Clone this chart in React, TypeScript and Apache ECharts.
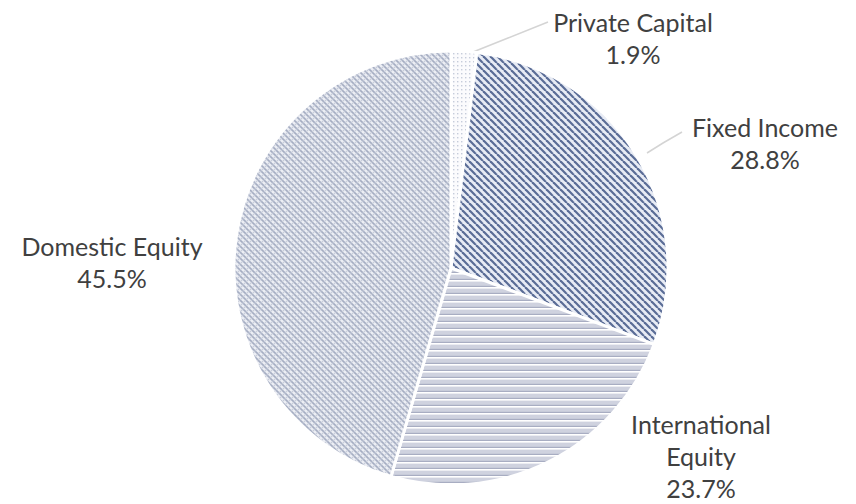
import React, { useEffect, useRef } from "react";
import * as echarts from "echarts";

const categories = ["Private Capital", "Fixed Income", "International Equity", "Domestic Equity"];
const labelNames = ["Private Capital", "Fixed Income", "International\nEquity", "Domestic Equity"];
const shares = [1.9, 28.8, 23.7, 45.5];
const labelX = [633, 765, 701, 112];
const labelY = [38, 143, 456, 262];

function tile(w: number, h: number, draw: (c: CanvasRenderingContext2D) => void) {
  const cv = document.createElement("canvas");
  cv.width = w;
  cv.height = h;
  const c = cv.getContext("2d")!;
  draw(c);
  return cv;
}

function diag(c: CanvasRenderingContext2D, s: number, dir: number) {
  for (let k = -1; k <= 1; k++) {
    c.beginPath();
    if (dir > 0) {
      c.moveTo(k * s, 0);
      c.lineTo(k * s + s, s);
    } else {
      c.moveTo(k * s, s);
      c.lineTo(k * s + s, 0);
    }
    c.stroke();
  }
}

function patterns() {
  const priv = tile(4, 4, (c) => {
    c.fillStyle = "#fbfbfd";
    c.fillRect(0, 0, 4, 4);
    c.fillStyle = "#c6ccda";
    c.fillRect(1, 1, 1.4, 1.4);
  });
  const fixed = tile(7, 7, (c) => {
    c.fillStyle = "#e8ecf5";
    c.fillRect(0, 0, 7, 7);
    c.strokeStyle = "#5a6c96";
    c.lineWidth = 2.2;
    diag(c, 7, 1);
  });
  const intl = tile(4, 7, (c) => {
    c.fillStyle = "#cfd2df";
    c.fillRect(0, 0, 4, 7);
    c.fillStyle = "#ffffff";
    c.fillRect(0, 0, 4, 1.6);
    c.fillStyle = "#a8adc2";
    c.fillRect(0, 5.8, 4, 1.2);
  });
  const dom = tile(6, 6, (c) => {
    c.fillStyle = "#eceef4";
    c.fillRect(0, 0, 6, 6);
    c.strokeStyle = "#a5adc2";
    c.lineWidth = 1.6;
    diag(c, 6, 1);
    c.strokeStyle = "#c6cbd9";
    c.lineWidth = 1.2;
    diag(c, 6, -1);
  });
  return [priv, fixed, intl, dom];
}

export default function App() {
  const ref = useRef<HTMLDivElement>(null);
  useEffect(() => {
    document.body.style.margin = "0";
    const chart = echarts.init(ref.current!, null, { renderer: "svg" });
    const pats = patterns();
    const data = categories.map((name, i) => ({
      name,
      value: shares[i],
      itemStyle: { color: { image: pats[i], repeat: "repeat" } as any },
      labelLine: { show: i < 2 },
    }));
    chart.setOption({
      animation: false,
      backgroundColor: "#ffffff",
      series: [
        {
          type: "pie",
          center: [451, 268],
          radius: 217,
          startAngle: 90,
          clockwise: true,
          data,
          itemStyle: { borderColor: "#ffffff", borderWidth: 3 },
          label: {
            show: true,
            position: "outside",
            overflow: "none",
            edgeDistance: 0,
            fontFamily: "Lato, 'Open Sans', sans-serif",
            fontSize: 25,
            lineHeight: 32,
            color: "#404040",
            align: "center",
            formatter: (p: any) => `${labelNames[p.dataIndex]}\n${shares[p.dataIndex].toFixed(1)}%`,
          },
          labelLine: { show: true, lineStyle: { color: "#d4d4d4", width: 1.5 } },
          labelLayout: (p: any) => {
            const i = p.dataIndex;
            const out: any = { x: labelX[i], y: labelY[i], align: "center", verticalAlign: "middle" };
            if (i === 0) out.labelLinePoints = [[468, 54], [508, 38], [548, 22]];
            if (i === 1) out.labelLinePoints = [[647, 153], [663, 143], [682, 132]];
            return out;
          },
        },
      ],
    });
    return () => chart.dispose();
  }, []);
  return <div ref={ref} style={{ width: 856, height: 504 }} />;
}
